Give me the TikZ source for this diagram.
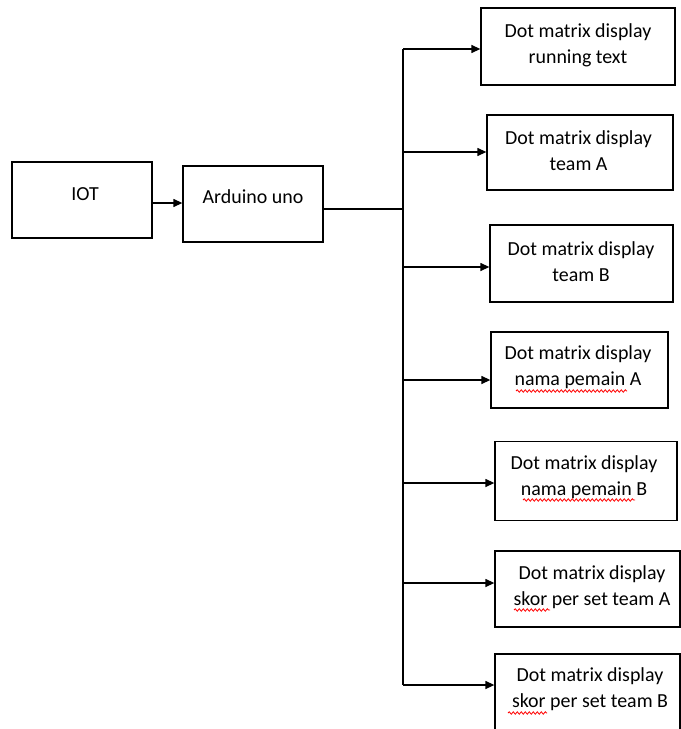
\documentclass[tikz,border=0pt]{standalone}
\usepackage{fontspec}
\setmainfont{Carlito}
\usetikzlibrary{arrows.meta,decorations.pathmorphing}
\begin{document}
\begin{tikzpicture}[x=1bp,y=-1bp,
  box/.style={draw,line width=1.3bp,inner sep=0,rectangle},
  txt/.style={align=center,inner sep=0,font=\fontsize{20}{26}\selectfont},
  conn/.style={line width=1.3bp},
  arr/.style={conn,-{Triangle[length=9bp,width=8bp]}},
  squig/.style={red,line width=0.8bp,decorate,decoration={snake,amplitude=1.2bp,segment length=4bp}}]
\useasboundingbox (0,0) rectangle (681,729);
\fill[white] (0,0) rectangle (681,729);
% left boxes
\node[box,minimum width=140bp,minimum height=76bp] (iot) at (82,200) {};
\node[txt] (iott) at (85,194) {IOT};
\node[box,minimum width=140bp,minimum height=76bp] (ard) at (253,204) {};
\node[txt] (ardt) at (253,197) {Arduino uno};
% right boxes
\node[box,minimum width=194bp,minimum height=77bp] (b1) at (578,46.5) {};
\node[txt] (b1t) at (578,45) {Dot matrix display\\running text};
\node[box,minimum width=186bp,minimum height=75bp] (b2) at (580,152.5) {};
\node[txt] (b2t) at (578.5,151) {Dot matrix display\\team A};
\node[box,minimum width=183bp,minimum height=77bp] (b3) at (581.5,263.5) {};
\node[txt] (b3t) at (581,261.5) {Dot matrix display\\team B};
\node[box,minimum width=177bp,minimum height=76bp] (b4) at (579.5,370) {};
\node[txt] (b4t) at (578,367.5) {Dot matrix display\\nama pemain A};
\node[box,minimum width=182bp,minimum height=79bp] (b5) at (586,481) {};
\node[txt] (b5t) at (584,477.5) {Dot matrix display\\nama pemain B};
\node[box,minimum width=185bp,minimum height=76bp] (b6) at (587.5,589) {};
\node[txt] (b6t) at (592,587) {Dot matrix display\\skor per set team A};
\node[box,minimum width=185bp,minimum height=84bp] (b7) at (587.5,696) {};
\node[txt] (b7t) at (590,689.5) {Dot matrix display\\skor per set team B};
% connectors
\coordinate (a1) at (152,203);
\draw[arr] (a1) -- (a1 -| ard.west);
\coordinate (o1) at (323,209);
\coordinate (top) at (403,49);
\coordinate (bot) at (403,685);
\draw[conn] (o1) -- (o1 -| top);
\draw[conn] (top) -- (bot);
\coordinate (t2) at (403,152);
\coordinate (t3) at (403,267);
\coordinate (t4) at (403,380);
\coordinate (t5) at (403,483);
\coordinate (t6) at (403,583);
\draw[arr] (top) -- (top -| b1.west);
\draw[arr] (t2) -- (t2 -| b2.west);
\draw[arr] (t3) -- (t3 -| b3.west);
\draw[arr] (t4) -- (t4 -| b4.west);
\draw[arr] (t5) -- (t5 -| b5.west);
\draw[arr] (t6) -- (t6 -| b6.west);
\draw[arr] (bot) -- (bot -| b7.west);
% spell-check underlines
\draw[squig] (516,391) -- (627,391);
\draw[squig] (523,500) -- (635,500);
\draw[squig] (514,610) -- (550,610);
\draw[squig] (508,713) -- (547,713);
\end{tikzpicture}
\end{document}
